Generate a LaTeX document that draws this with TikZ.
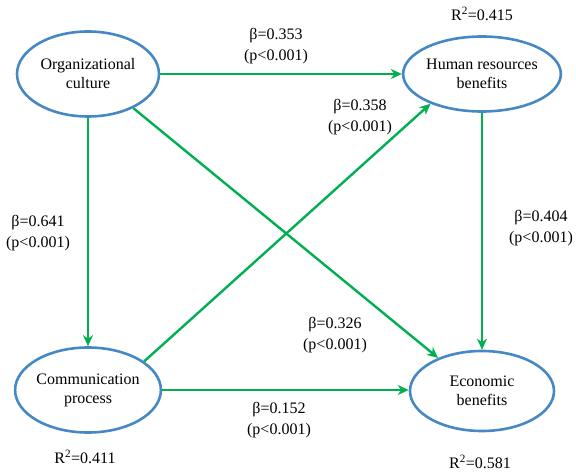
\documentclass[tikz,border=0pt]{standalone}
\usepackage{fontspec}
\setmainfont{Liberation Serif}
\newfontfamily\diagramfont{Liberation Serif}
\usetikzlibrary{arrows.meta,shapes.geometric}
\definecolor{ovalblue}{RGB}{70,136,196}
\definecolor{pathgreen}{RGB}{0,176,80}
\begin{document}
\begin{tikzpicture}[x=1pt,y=-1pt,
  construct/.style={ellipse,draw=ovalblue,line width=2.6pt,inner sep=0pt,align=center,
    font=\diagramfont\fontsize{16}{19}\selectfont},
  path arrow/.style={draw=pathgreen,line width=2.4pt,
    -{Stealth[length=11pt,width=10pt,inset=3.5pt]}},
  coef/.style={align=center,font=\diagramfont\fontsize{16}{21}\selectfont},
  rsq/.style={font=\diagramfont\fontsize{16}{19}\selectfont,inner sep=1pt}]
\useasboundingbox (0,0) rectangle (576,473);

% latent constructs
\node[construct,minimum width=142pt,minimum height=85pt] (org) at (88,74) {Organizational\\culture};
\node[construct,minimum width=142pt,minimum height=75pt] (hr) at (482,74) {Human resources\\benefits};
\node[construct,minimum width=143pt,minimum height=85pt] (comm) at (88,390) {Communication\\process};
\node[construct,minimum width=144pt,minimum height=80pt] (econ) at (482,391) {Economic\\benefits};

% explained variance
\node[rsq] (r2hr) at (482,14) {R\textsuperscript{2}=0.415};
\node[rsq] (r2comm) at (85,457) {R\textsuperscript{2}=0.411};
\node[rsq] (r2econ) at (480,462) {R\textsuperscript{2}=0.581};

% structural paths
\draw[path arrow] (org) -- (hr);
\draw[path arrow] (org) -- (comm);
\draw[path arrow] (org.-37) -- (econ.143);
\draw[path arrow] (comm.27) -- (hr.210);
\draw[path arrow] (comm.east) -- (comm.east -| econ.west);
\draw[path arrow] (hr) -- (econ);

% path coefficients
\node[coef] (b1) at (276,46) {β=0.353\\(p<0.001)};
\node[coef] (b2) at (360,117) {β=0.358\\(p<0.001)};
\node[coef] (b3) at (38,233) {β=0.641\\(p<0.001)};
\node[coef] (b4) at (541,228) {β=0.404\\(p<0.001)};
\node[coef] (b5) at (335,335) {β=0.326\\(p<0.001)};
\node[coef] (b6) at (279,420) {β=0.152\\(p<0.001)};
\end{tikzpicture}
\end{document}
